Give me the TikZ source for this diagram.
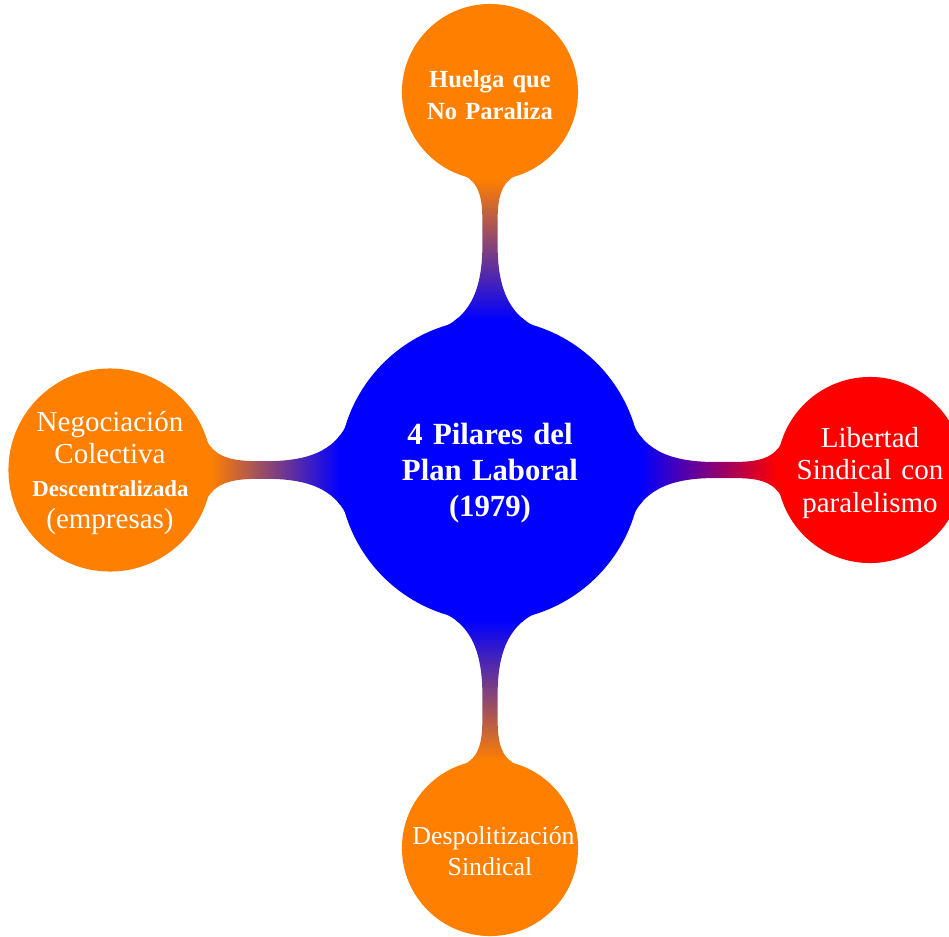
\documentclass[tikz,border=0pt]{standalone}
\usepackage{fontspec}
\setmainfont{Liberation Serif}
\usepackage{tikz}
\usetikzlibrary{mindmap}
\usetikzlibrary{positioning}
\tikzset{pilar/.style={concept, concept color=orange, circle, inner sep=0pt, minimum size=3.48cm, text width=3.1cm, align=center, execute at end node={\par\vspace*{-0.12cm}}}}
\tikzset{raiz/.style={concept, concept color=blue, circle, inner sep=0pt, minimum size=6cm, text width=4.6cm, align=center, execute at end node={\par\vspace*{-0.12cm}}, font=\bfseries\fontsize{17.5}{20.5}\selectfont}}

\begin{document}
\begin{tikzpicture} [mindmap, text=white]
\useasboundingbox (-9.8,-9.32) rectangle (9.18,9.4);
\node[raiz] (plan) at (0,0) {4 Pilares del\\ Plan Laboral\\ (1979)};
\node[pilar, font=\bfseries\fontsize{14}{17.8}\selectfont] (huelga) at (0,7.56) {Huelga que\\ No Paraliza};
\node[pilar, minimum size=4.02cm, font=\fontsize{16.5}{18.4}\selectfont] (negociacion) at (-7.6,0)
  {Negociaci\'on\\ Colectiva\\ {\bfseries\fontsize{13}{15}\selectfont Descentralizada}\\ (empresas)};
\node[pilar, font=\fontsize{14.7}{17.8}\selectfont] (despolitizacion) at (0,-7.56) {Despolitizaci\'on\\ Sindical};
\node[pilar, concept color=red, minimum size=3.68cm, font=\fontsize{16.5}{18.4}\selectfont] (libertad) at (7.6,0)
  {Libertad\\ Sindical con\\ paralelismo};
\foreach \hijo/\col in {huelga/orange, negociacion/orange, despolitizacion/orange, libertad/red} {
  \path (plan) to[circle connection bar switch color=from (blue) to (\col)] (\hijo);
}
\end{tikzpicture}
\end{document}
